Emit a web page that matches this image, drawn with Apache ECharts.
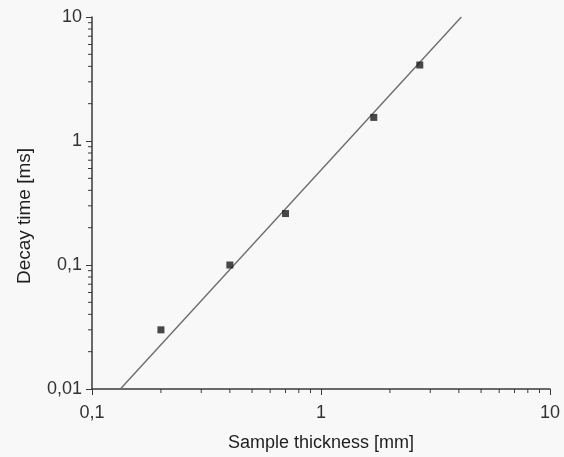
<!DOCTYPE html>
<html>
<head>
<meta charset="utf-8">
<script src="https://cdn.jsdelivr.net/npm/echarts@6/dist/echarts.min.js"></script>
<style>
html,body{margin:0;padding:0;background:#f8f8f8;}
#c{width:564px;height:457px;}
</style>
</head>
<body>
<div id="c"></div>
<script>
// Data
const thickness = [0.2, 0.4, 0.7, 1.7, 2.7];        // mm
const decayTime = [0.03, 0.1, 0.26, 1.55, 4.1];      // ms
const fitX = [0.133, 4.1];
const fitY = [0.01, 10];
// Axis ranges and minor tick values
const xRange = [0.1, 10];
const yRange = [0.01, 10];
const xMinorTicks = [0.2,0.3,0.4,0.5,0.6,0.7,0.8,0.9,2,3,4,5,6,7,8,9];
const yMinorTicks = [0.02,0.03,0.04,0.05,0.06,0.07,0.08,0.09,0.2,0.3,0.4,0.5,0.6,0.7,0.8,0.9,2,3,4,5,6,7,8,9];

const FONT = 'Liberation Sans';
const AXIS_COLOR = '#3a3a3a';
const fmt = v => String(+v.toPrecision(6)).replace('.', ',');

const chart = echarts.init(document.getElementById('c'), null, {renderer: 'canvas'});

function minorTickSeries(values, isX) {
  return {
    type: 'custom',
    silent: true,
    clip: false,
    z: 5,
    data: values.map(v => [v]),
    renderItem: function (params, api) {
      const v = api.value(0);
      const len = 4;
      if (isX) {
        const p = api.coord([v, yRange[0]]);
        return {type: 'line', shape: {x1: p[0], y1: p[1], x2: p[0], y2: p[1] + len},
                style: {stroke: AXIS_COLOR, lineWidth: 1}};
      } else {
        const p = api.coord([xRange[0], v]);
        return {type: 'line', shape: {x1: p[0], y1: p[1], x2: p[0] - len, y2: p[1]},
                style: {stroke: AXIS_COLOR, lineWidth: 1}};
      }
    }
  };
}

chart.setOption({
  backgroundColor: '#f8f8f8',
  animation: false,
  grid: {left: 92, right: 14, top: 17, bottom: 68},
  xAxis: {
    type: 'log', logBase: 10, min: xRange[0], max: xRange[1],
    name: 'Sample thickness [mm]', nameLocation: 'middle', nameGap: 45,
    nameTextStyle: {fontFamily: FONT, fontSize: 18, color: '#1e1e1e'},
    axisLine: {lineStyle: {color: AXIS_COLOR, width: 1.5}},
    axisTick: {show: true, inside: false, length: 6, lineStyle: {color: AXIS_COLOR, width: 1}},
    minorTick: {show: false},
    splitLine: {show: false},
    axisLabel: {fontFamily: FONT, fontSize: 18, color: '#333', margin: 15, formatter: fmt}
  },
  yAxis: {
    type: 'log', logBase: 10, min: yRange[0], max: yRange[1],
    axisLine: {show: true, lineStyle: {color: AXIS_COLOR, width: 1.5}},
    axisTick: {show: true, inside: false, length: 6, lineStyle: {color: AXIS_COLOR, width: 1}},
    minorTick: {show: false},
    splitLine: {show: false},
    axisLabel: {fontFamily: FONT, fontSize: 18, color: '#333', margin: 10, formatter: fmt}
  },
  graphic: [{
    type: 'text', x: 25, y: 216, rotation: Math.PI / 2,
    style: {text: 'Decay time [ms]', fontFamily: FONT, fontSize: 19, fill: '#1e1e1e',
            align: 'center', verticalAlign: 'middle'}
  }],
  series: [
    {
      type: 'line', data: fitX.map((x, i) => [x, fitY[i]]),
      showSymbol: false, symbol: 'none',
      lineStyle: {color: '#6e6e6e', width: 1.4}, z: 3
    },
    {
      type: 'scatter', data: thickness.map((x, i) => [x, decayTime[i]]),
      symbol: 'rect', symbolSize: 7,
      itemStyle: {color: '#1a1a1a'}, z: 4
    },
    minorTickSeries(xMinorTicks, true),
    minorTickSeries(yMinorTicks, false)
  ]
});
</script>
</body>
</html>
